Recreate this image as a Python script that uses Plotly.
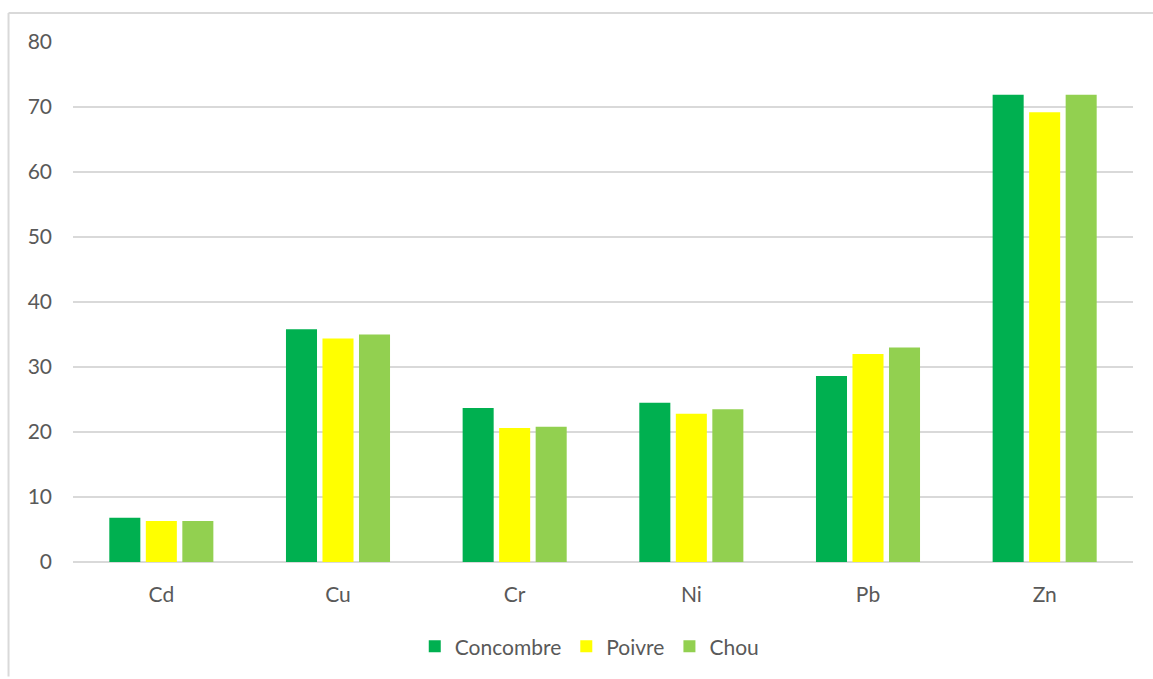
import plotly.graph_objects as go

categories = ["Cd", "Cu", "Cr", "Ni", "Pb", "Zn"]
concombre = [6.8, 35.8, 23.7, 24.5, 28.6, 71.9]
poivre = [6.3, 34.4, 20.6, 22.8, 32.0, 69.2]
chou = [6.3, 35.0, 20.8, 23.5, 33.0, 71.9]
y_ticks = [0, 10, 20, 30, 40, 50, 60, 70, 80]

series = [("Concombre", concombre, "#00B050"),
          ("Poivre", poivre, "#FFFF00"),
          ("Chou", chou, "#92D050")]

fig = go.Figure()
for name, vals, color in series:
    fig.add_trace(go.Bar(x=categories, y=vals, name=name,
                         marker=dict(color=color, line=dict(width=0))))

W, H = 1153, 679
L, R, T, B = 72.5, 20, 42, 115
pw, ph = W - L - R, H - T - B

def px(x):
    return (x - L) / pw

def py(y):
    return (H - B - y) / ph

font_family = "Lato, 'Open Sans', sans-serif"
gray = "#595959"

fig.update_layout(
    width=W, height=H,
    margin=dict(l=L, r=R, t=T, b=B, pad=0),
    paper_bgcolor="white", plot_bgcolor="white",
    barmode="group", bargap=0.38, bargroupgap=0.15,
    font=dict(family=font_family, color=gray, size=21),
    showlegend=True,
    legend=dict(orientation="h", x=px(589.5), xanchor="center",
                y=py(649), yanchor="middle",
                font=dict(size=21, color=gray), itemwidth=30,
                traceorder="normal"),
    xaxis=dict(showgrid=False, showline=False, ticks="",
               tickfont=dict(size=21, color=gray), ticklabelstandoff=18),
    yaxis=dict(range=[0, 80], tickvals=y_ticks, showgrid=True,
               gridcolor="#D9D9D9", gridwidth=1.5, zeroline=True,
               zerolinecolor="#D9D9D9", zerolinewidth=1.5,
               showline=False, ticks="",
               tickfont=dict(size=21, color=gray), ticklabelstandoff=20),
    shapes=[
        dict(type="line", xref="paper", yref="paper",
             x0=px(8), x1=px(8), y0=py(679), y1=py(13),
             line=dict(color="#D9D9D9", width=2)),
        dict(type="line", xref="paper", yref="paper",
             x0=px(8), x1=px(1153), y0=py(13), y1=py(13),
             line=dict(color="#D9D9D9", width=2)),
    ],
)

fig.write_html("out.html")
